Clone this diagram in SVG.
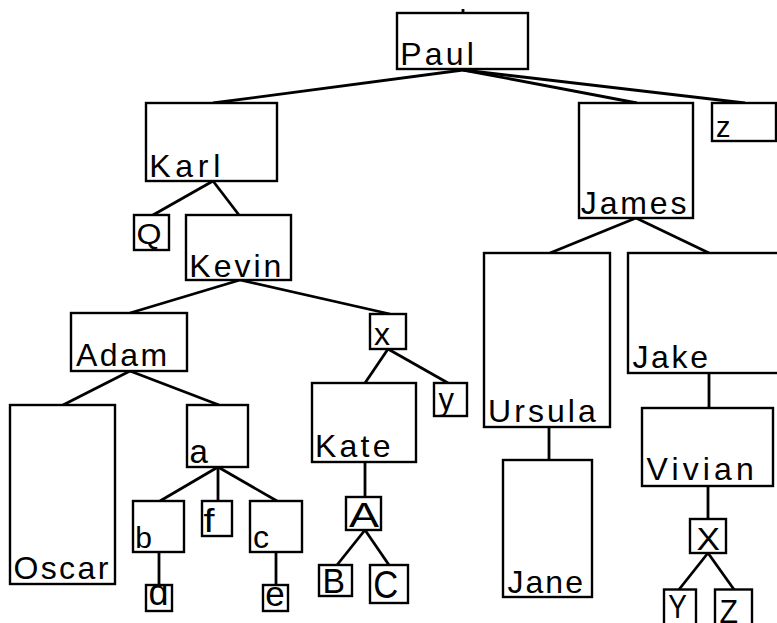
<svg xmlns="http://www.w3.org/2000/svg" width="777" height="623" viewBox="0 0 777 623">
<style>
.n rect{fill:#fff;stroke:#000;stroke-width:2.4}
.n text{font-family:"Liberation Sans",Arial,sans-serif;fill:#000}
.w{font-size:32px}
#edges line{stroke:#000;stroke-width:2.8;stroke-linecap:butt}
</style>
<defs>
<clipPath id="clipd"><rect x="146" y="585" width="26" height="26"/></clipPath>
</defs>
<rect width="777" height="623" fill="#fff"/>
<g id="edges">
<line x1="463" y1="9" x2="463" y2="13"/>
<line x1="463" y1="70" x2="213" y2="103"/>
<line x1="463" y1="70" x2="637" y2="103"/>
<line x1="463" y1="70" x2="745" y2="103"/>
<line x1="213" y1="181" x2="153" y2="215"/>
<line x1="213" y1="181" x2="239" y2="215"/>
<line x1="240" y1="280" x2="130" y2="313"/>
<line x1="240" y1="280" x2="390" y2="314"/>
<line x1="130" y1="371" x2="63" y2="405"/>
<line x1="130" y1="371" x2="219" y2="405"/>
<line x1="218" y1="467" x2="160" y2="501"/>
<line x1="218" y1="467" x2="218" y2="501"/>
<line x1="218" y1="467" x2="277" y2="501"/>
<line x1="159" y1="552" x2="159" y2="585"/>
<line x1="276" y1="552" x2="276" y2="585"/>
<line x1="388" y1="349" x2="365" y2="383"/>
<line x1="388" y1="349" x2="448" y2="383"/>
<line x1="365" y1="462" x2="365" y2="497"/>
<line x1="365" y1="530" x2="337" y2="565"/>
<line x1="365" y1="530" x2="389" y2="565"/>
<line x1="636" y1="218" x2="550" y2="253"/>
<line x1="636" y1="218" x2="709" y2="253"/>
<line x1="549" y1="427" x2="549" y2="460"/>
<line x1="709" y1="373" x2="709" y2="408"/>
<line x1="708" y1="486" x2="708" y2="519"/>
<line x1="708" y1="553" x2="679" y2="589.5"/>
<line x1="708" y1="553" x2="734" y2="589.5"/>
</g>
<g id="Paul" class="n"><rect x="397" y="13" width="131" height="56"/><text class="w" x="400.2" y="65" textLength="73.6">Paul</text></g>
<g id="Karl" class="n"><rect x="146" y="103" width="131" height="78"/><text class="w" x="149.3" y="177.3" textLength="71">Karl</text></g>
<g id="James" class="n"><rect x="579" y="103" width="114" height="115"/><text class="w" x="580.8" y="214.3" textLength="105.6">James</text></g>
<g id="z" class="n"><rect x="712" y="103" width="64" height="38"/><text x="716" y="136.7" font-size="29">z</text></g>
<g id="Q" class="n"><rect x="134" y="215" width="35" height="35"/><text x="136.5" y="243.5" font-size="29" textLength="25" lengthAdjust="spacingAndGlyphs">Q</text></g>
<g id="Kevin" class="n"><rect x="186" y="215" width="105" height="65"/><text class="w" x="189.3" y="276.7" textLength="92.1">Kevin</text></g>
<g id="Adam" class="n"><rect x="71" y="313" width="116" height="58"/><text class="w" x="76" y="366" textLength="91.1">Adam</text></g>
<g id="x" class="n"><rect x="370" y="314" width="36" height="35"/><text x="374" y="345" font-size="32">x</text></g>
<g id="Oscar" class="n"><rect x="10" y="405" width="105" height="179"/><text class="w" x="13.5" y="579.3" textLength="94.8">Oscar</text></g>
<g id="a" class="n"><rect x="187" y="405" width="61" height="62"/><text x="189.5" y="462.7" font-size="33">a</text></g>
<g id="Kate" class="n"><rect x="312" y="383" width="104" height="79"/><text class="w" x="314.9" y="456.7" textLength="75.6">Kate</text></g>
<g id="y" class="n"><rect x="434" y="383" width="33" height="33"/><text x="438.5" y="410" font-size="31">y</text></g>
<g id="b" class="n"><rect x="133" y="501" width="51" height="51"/><text x="135.3" y="548.3" font-size="30">b</text></g>
<g id="f" class="n"><rect x="202" y="501" width="30" height="35"/><text x="203.5" y="531.7" font-size="33" textLength="11" lengthAdjust="spacingAndGlyphs">f</text></g>
<g id="c" class="n"><rect x="250" y="501" width="52" height="51"/><text x="253" y="548.3" font-size="32">c</text></g>
<g id="d" class="n"><rect x="146" y="585" width="26" height="26"/><text x="148.6" y="605" font-size="36" clip-path="url(#clipd)">d</text></g>
<g id="e" class="n"><rect x="263" y="585" width="25" height="26"/><text x="265.3" y="605.5" font-size="35">e</text></g>
<g id="A" class="n"><rect x="346" y="497" width="35" height="33"/><text x="349" y="526.7" font-size="35" textLength="30" lengthAdjust="spacingAndGlyphs">A</text></g>
<g id="B" class="n"><rect x="319" y="565" width="33" height="31"/><text x="322.4" y="593.3" font-size="35" textLength="22.5" lengthAdjust="spacingAndGlyphs">B</text></g>
<g id="C" class="n"><rect x="370" y="565" width="38" height="38"/><text x="373.3" y="597.5" font-size="38" textLength="25" lengthAdjust="spacingAndGlyphs">C</text></g>
<g id="Ursula" class="n"><rect x="484" y="253" width="126" height="174"/><text class="w" x="488.1" y="422.3" textLength="107.6">Ursula</text></g>
<g id="Jake" class="n"><rect x="628" y="253" width="160" height="120"/><text class="w" x="632.4" y="368.3" textLength="75.6">Jake</text></g>
<g id="Jane" class="n"><rect x="503" y="460" width="89" height="137"/><text class="w" x="507.4" y="593.3" textLength="75.6">Jane</text></g>
<g id="Vivian" class="n"><rect x="642" y="408" width="131" height="78"/><text class="w" x="646.6" y="480" textLength="107.2">Vivian</text></g>
<g id="X" class="n"><rect x="690" y="519" width="36" height="34"/><text x="696.5" y="550" font-size="31" textLength="23.5" lengthAdjust="spacingAndGlyphs">X</text></g>
<g id="Y" class="n"><rect x="664" y="589.5" width="32" height="40"/><text x="668.2" y="618.3" font-size="34" textLength="18.6" lengthAdjust="spacingAndGlyphs">Y</text></g>
<g id="Z" class="n"><rect x="715" y="589.5" width="37" height="40"/><text x="719.4" y="622.6" font-size="34" textLength="18.5" lengthAdjust="spacingAndGlyphs">Z</text></g>
</svg>
